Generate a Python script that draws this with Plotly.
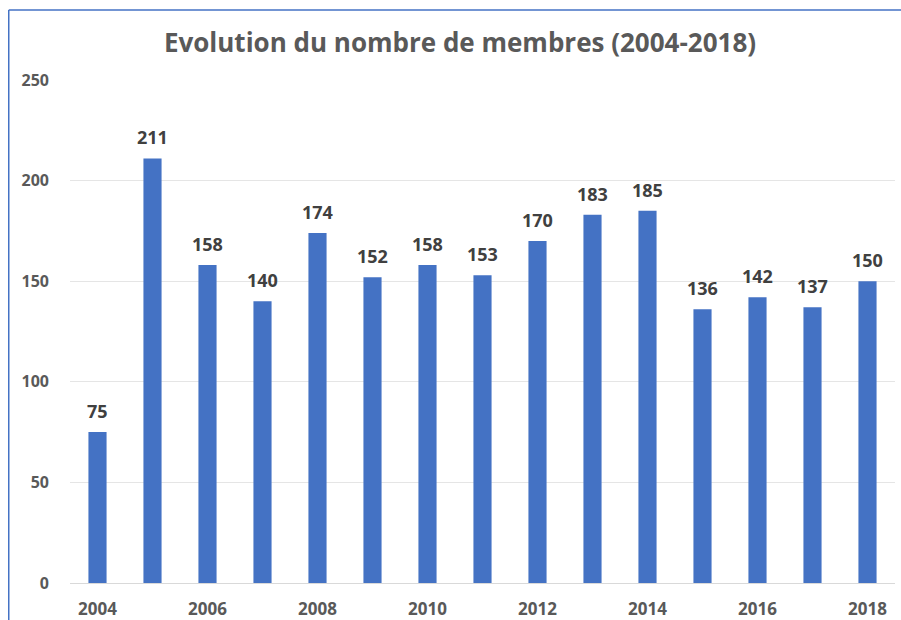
import plotly.graph_objects as go

years = [2004, 2005, 2006, 2007, 2008, 2009, 2010, 2011, 2012, 2013, 2014, 2015, 2016, 2017, 2018]
members = [75, 211, 158, 140, 174, 152, 158, 153, 170, 183, 185, 136, 142, 137, 150]
tick_years = [2004, 2006, 2008, 2010, 2012, 2014, 2016, 2018]
title = "Evolution du nombre de membres (2004-2018)"

FONT = "Open Sans"
W, H = 901, 620
L, R, T, B = 70, 6, 80, 37
pw = W - L - R
ph = H - T - B

fig = go.Figure(go.Bar(
    x=years, y=members,
    marker=dict(color="#4472C4", line=dict(width=0)),
    width=0.33,
    hoverinfo="x+y",
))

for yr, v in zip(years, members):
    fig.add_annotation(x=yr, y=v, text="<b>%d</b>" % v, showarrow=False,
                       yanchor="bottom", yshift=7,
                       font=dict(family=FONT, size=18, color="#404040"))

fig.update_layout(
    width=W, height=H,
    margin=dict(l=L, r=R, t=T, b=B, autoexpand=False),
    paper_bgcolor="white", plot_bgcolor="white",
    showlegend=False,
    title=dict(text="<b>" + title + "</b>", x=460 / W, xanchor="center", y=1 - 43 / H, yanchor="middle",
               font=dict(family=FONT, size=26, color="#595959")),
    xaxis=dict(range=[2003.5, 2018.5], tickmode="array", tickvals=tick_years,
               ticktext=[str(y) for y in tick_years], showgrid=False, zeroline=False,
               showline=False, ticks="", ticklabelstandoff=14, automargin=False,
               tickfont=dict(family=FONT, size=17, color="#595959", weight="bold")),
    yaxis=dict(range=[0, 250], tickvals=[0, 50, 100, 150, 200, 250], showgrid=True,
               gridcolor="#E5E5E5", gridwidth=1, zeroline=True, zerolinecolor="#D9D9D9",
               zerolinewidth=1, ticks="", ticklabelstandoff=20, automargin=False,
               tickfont=dict(family=FONT, size=16, color="#595959", weight="bold")),
    bargap=0.67,
)

x_left = (8.75 - L) / pw
y_top = (T + ph - 10) / ph
y_bot = -B / ph
x_right = 1 + R / pw
fig.add_shape(type="line", xref="paper", yref="paper", x0=x_left, x1=x_right, y0=y_top, y1=y_top,
              line=dict(color="#4472C4", width=1.5))
fig.add_shape(type="line", xref="paper", yref="paper", x0=x_left, x1=x_left, y0=y_bot, y1=y_top,
              line=dict(color="#4472C4", width=1.5))

fig.write_html("out.html", config={"displayModeBar": False},
               post_script="document.body.style.margin='0';document.body.style.overflow='hidden';")
